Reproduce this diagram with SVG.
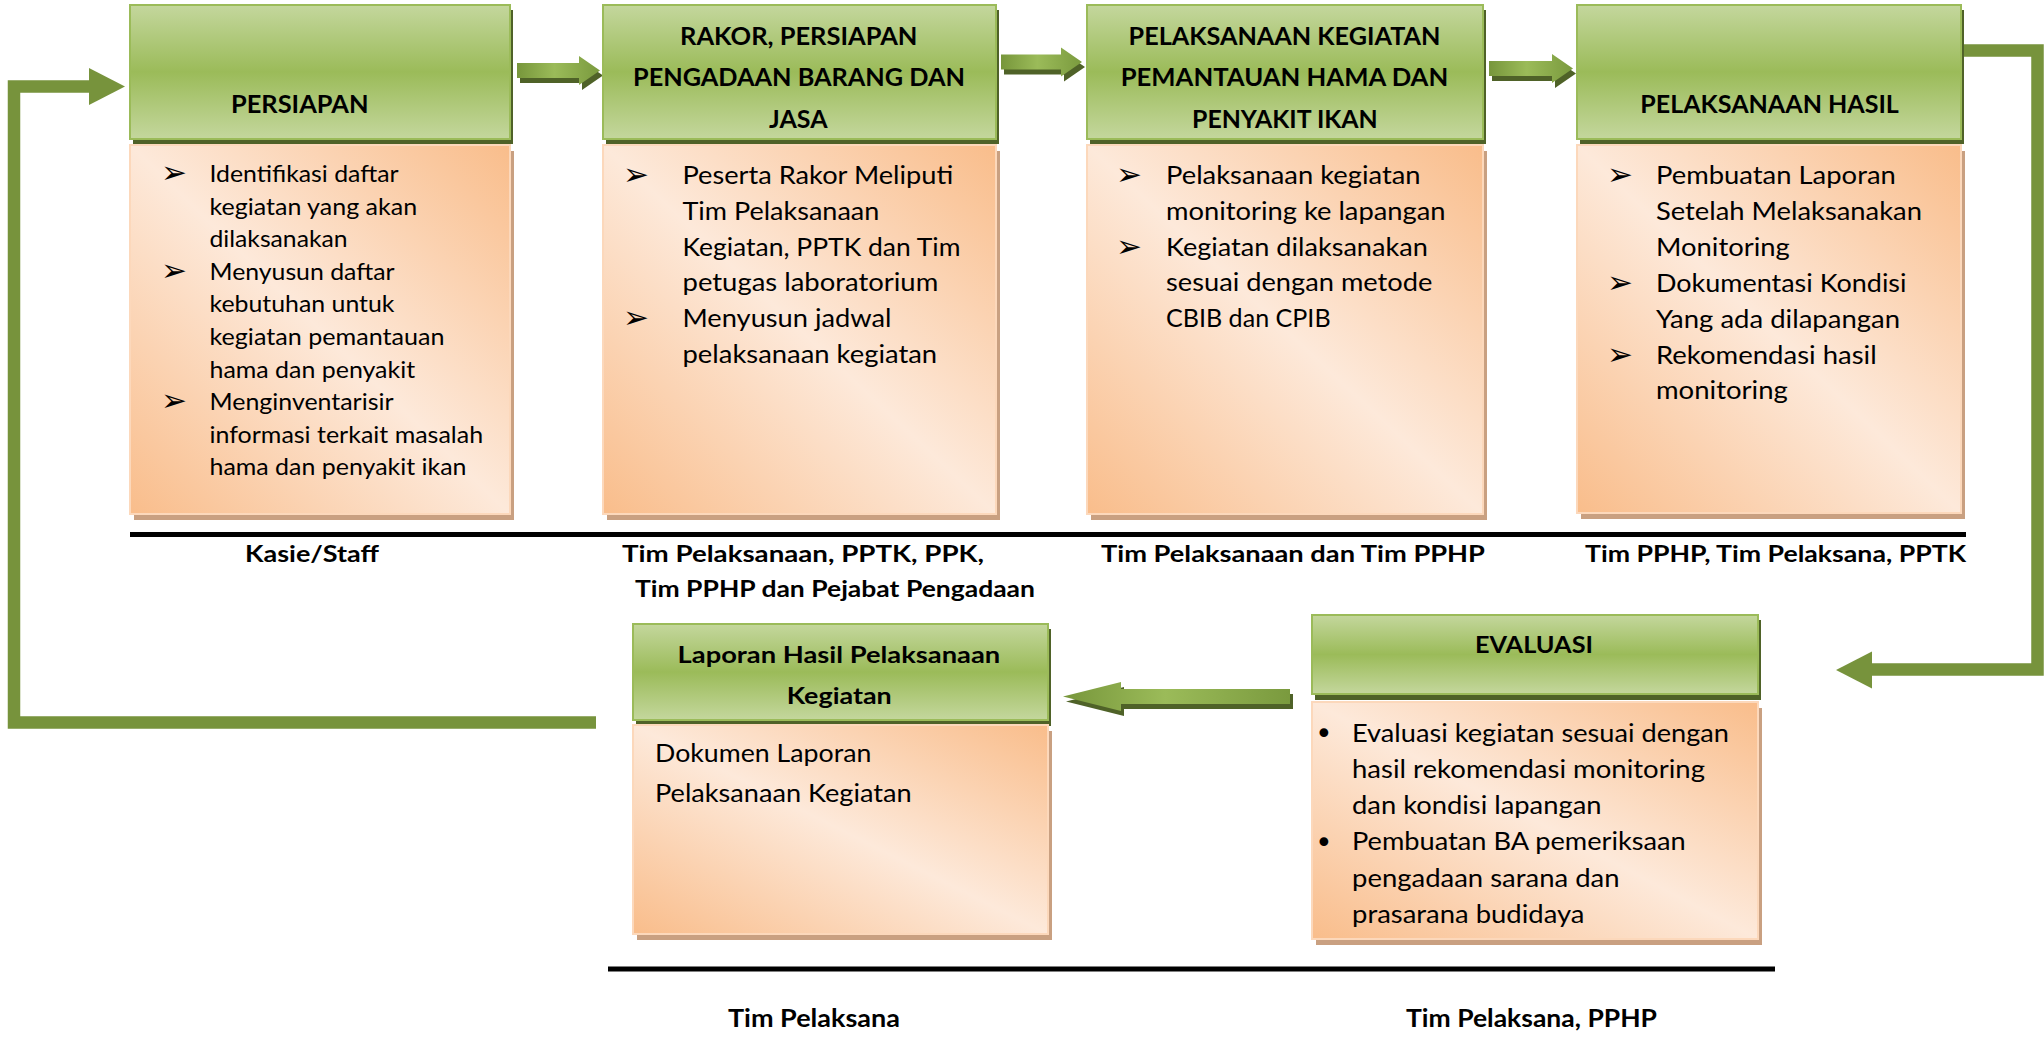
<svg xmlns="http://www.w3.org/2000/svg" width="2044" height="1038" viewBox="0 0 2044 1038">
  <defs>
    <linearGradient id="gHead" x1="0" y1="0" x2="0" y2="1">
      <stop offset="0" stop-color="#c4d79d"/>
      <stop offset="0.5" stop-color="#9bbb59"/>
      <stop offset="1" stop-color="#c4d79d"/>
    </linearGradient>
    <linearGradient id="gBody" x1="0" y1="1" x2="1" y2="0">
      <stop offset="0" stop-color="#f9bd8b"/>
      <stop offset="0.5" stop-color="#fde9da"/>
      <stop offset="1" stop-color="#f9bd8b"/>
    </linearGradient>
    <linearGradient id="gArrow" x1="0" y1="0" x2="1" y2="0">
      <stop offset="0" stop-color="#77963b"/>
      <stop offset="0.45" stop-color="#9bbb59"/>
      <stop offset="1" stop-color="#7a9a3e"/>
    </linearGradient>
    <style>
      .hd { fill: url(#gHead); stroke: #9bbb59; stroke-width: 2; }
      .hds { fill: #4f6228; }
      .bd { fill: url(#gBody); stroke: #fcd8bb; stroke-width: 2; }
      .bds { fill: #c9a081; }
      .t { font-family: Lato, "Open Sans", "Liberation Sans", sans-serif; fill: #000; }
      .b1 { font-size: 22.5px; }
      .b2 { font-size: 25px; }
      .ttl { font-weight: bold; font-size: 25px; }
      .ttl2 { font-weight: bold; font-size: 23.5px; }
      .role { font-weight: bold; font-size: 23px; }
      .role2 { font-weight: bold; font-size: 24px; }
      .bul { font-family: "DejaVu Sans", sans-serif; font-size: 31px; fill: #000; }
      .dot { font-family: "DejaVu Sans", sans-serif; font-size: 30px; fill: #000; }
      .conn { fill: none; stroke: #77933c; stroke-width: 12.5; }
      .head { fill: #77933c; }
      .ar { fill: url(#gArrow); }
      .ars { fill: #4f6228; }
      .rule { stroke: #000; stroke-width: 5; }
    </style>
  </defs>

  <!-- connectors -->
  <g id="connectors">
    <!-- feedback loop: Laporan back to Persiapan -->
    <path class="conn" d="M596,722.5 H14 V86.5 H92"/>
    <polygon class="head" points="89,68 125,86.5 89,105"/>
    <!-- Pelaksanaan Hasil down to Evaluasi -->
    <path class="conn" d="M1962,50.5 H2037.5 V669.5 H1868"/>
    <polygon class="head" points="1872,651.5 1836,670 1872,688.5"/>
    <!-- block arrows between top stages -->
    <polygon class="ars" transform="translate(3,5)" points="517,63 579,63 579,56 600,70.5 579,85 579,78 517,78"/>
    <polygon class="ar" points="517,63 579,63 579,56 600,70.5 579,85 579,78 517,78"/>
    <polygon class="ars" transform="translate(3,5)" points="1001,54.5 1061,54.5 1061,47.5 1082,62 1061,76.5 1061,69.5 1001,69.5"/>
    <polygon class="ar" points="1001,54.5 1061,54.5 1061,47.5 1082,62 1061,76.5 1061,69.5 1001,69.5"/>
    <polygon class="ars" transform="translate(3,5)" points="1489,61 1552,61 1552,54 1573,68.5 1552,83 1552,76 1489,76"/>
    <polygon class="ar" points="1489,61 1552,61 1552,54 1573,68.5 1552,83 1552,76 1489,76"/>
    <!-- Evaluasi to Laporan -->
    <polygon class="ars" transform="translate(3,5)" points="1063,696.5 1121,682 1121,689 1290,689 1290,704 1121,704 1121,711"/>
    <polygon class="ar" points="1063,696.5 1121,682 1121,689 1290,689 1290,704 1121,704 1121,711"/>
  </g>

  <!-- Stage 1 -->
  <g id="node-persiapan">
    <rect class="hds" x="133" y="10" width="380" height="134"/>
    <rect class="hd" x="130" y="5" width="380" height="134"/>
    <rect class="bds" x="134" y="151" width="380" height="369"/>
    <rect class="bd" x="130" y="145" width="380" height="369"/>
    <text class="t ttl" x="231" y="112.5" textLength="137.5" lengthAdjust="spacingAndGlyphs">PERSIAPAN</text>
    <text class="bul" x="161" y="183">➢</text>
    <text class="bul" x="161" y="280.8">➢</text>
    <text class="bul" x="161" y="411.2">➢</text>
    <g class="t b1">
      <text x="209.5" y="182" textLength="189" lengthAdjust="spacingAndGlyphs">Identifikasi daftar</text>
      <text x="209.5" y="214.6" textLength="207.6" lengthAdjust="spacingAndGlyphs">kegiatan yang akan</text>
      <text x="209.5" y="247.2" textLength="138" lengthAdjust="spacingAndGlyphs">dilaksanakan</text>
      <text x="209.5" y="279.8" textLength="185" lengthAdjust="spacingAndGlyphs">Menyusun daftar</text>
      <text x="209.5" y="312.4" textLength="185" lengthAdjust="spacingAndGlyphs">kebutuhan untuk</text>
      <text x="209.5" y="345" textLength="235" lengthAdjust="spacingAndGlyphs">kegiatan pemantauan</text>
      <text x="209.5" y="377.6" textLength="205.6" lengthAdjust="spacingAndGlyphs">hama dan penyakit</text>
      <text x="209.5" y="410.2" textLength="184" lengthAdjust="spacingAndGlyphs">Menginventarisir</text>
      <text x="209.5" y="442.8" textLength="273.6" lengthAdjust="spacingAndGlyphs">informasi terkait masalah</text>
      <text x="209.5" y="475.4" textLength="257" lengthAdjust="spacingAndGlyphs">hama dan penyakit ikan</text>
    </g>
  </g>

  <!-- Stage 2 -->
  <g id="node-rakor">
    <rect class="hds" x="606" y="10" width="393" height="134"/>
    <rect class="hd" x="603" y="5" width="393" height="134"/>
    <rect class="bds" x="607" y="151" width="393" height="369"/>
    <rect class="bd" x="603" y="145" width="393" height="369"/>
    <g class="t ttl">
      <text x="680" y="45.4" textLength="237.5" lengthAdjust="spacingAndGlyphs">RAKOR, PERSIAPAN</text>
      <text x="633" y="86.4" textLength="332" lengthAdjust="spacingAndGlyphs">PENGADAAN BARANG DAN</text>
      <text x="769" y="127.5" textLength="58.5" lengthAdjust="spacingAndGlyphs">JASA</text>
    </g>
    <text class="bul" x="623" y="185">➢</text>
    <text class="bul" x="623" y="328.2">➢</text>
    <g class="t b2">
      <text x="682.5" y="184" textLength="270.7" lengthAdjust="spacingAndGlyphs">Peserta Rakor Meliputi</text>
      <text x="682.5" y="219.8" textLength="196.8" lengthAdjust="spacingAndGlyphs">Tim Pelaksanaan</text>
      <text x="682.5" y="255.6" textLength="277.9" lengthAdjust="spacingAndGlyphs">Kegiatan, PPTK dan Tim</text>
      <text x="682.5" y="291.4" textLength="255.7" lengthAdjust="spacingAndGlyphs">petugas laboratorium</text>
      <text x="682.5" y="327.2" textLength="209" lengthAdjust="spacingAndGlyphs">Menyusun jadwal</text>
      <text x="682.5" y="363" textLength="254.6" lengthAdjust="spacingAndGlyphs">pelaksanaan kegiatan</text>
    </g>
  </g>

  <!-- Stage 3 -->
  <g id="node-pelaksanaan-kegiatan">
    <rect class="hds" x="1090" y="10" width="396" height="134"/>
    <rect class="hd" x="1087" y="5" width="396" height="134"/>
    <rect class="bds" x="1091" y="151" width="396" height="369"/>
    <rect class="bd" x="1087" y="145" width="396" height="369"/>
    <g class="t ttl">
      <text x="1128.6" y="45.4" textLength="311.8" lengthAdjust="spacingAndGlyphs">PELAKSANAAN KEGIATAN</text>
      <text x="1120.7" y="86.4" textLength="327.5" lengthAdjust="spacingAndGlyphs">PEMANTAUAN HAMA DAN</text>
      <text x="1192" y="127.5" textLength="185.7" lengthAdjust="spacingAndGlyphs">PENYAKIT IKAN</text>
    </g>
    <text class="bul" x="1116" y="185">➢</text>
    <text class="bul" x="1116" y="256.6">➢</text>
    <g class="t b2">
      <text x="1166" y="184" textLength="254.6" lengthAdjust="spacingAndGlyphs">Pelaksanaan kegiatan</text>
      <text x="1166" y="219.8" textLength="279.6" lengthAdjust="spacingAndGlyphs">monitoring ke lapangan</text>
      <text x="1166" y="255.6" textLength="261.8" lengthAdjust="spacingAndGlyphs">Kegiatan dilaksanakan</text>
      <text x="1166" y="291.4" textLength="266.4" lengthAdjust="spacingAndGlyphs">sesuai dengan metode</text>
      <text x="1166" y="327.2" textLength="164.6" lengthAdjust="spacingAndGlyphs">CBIB dan CPIB</text>
    </g>
  </g>

  <!-- Stage 4 -->
  <g id="node-pelaksanaan-hasil">
    <rect class="hds" x="1580" y="10" width="384" height="134"/>
    <rect class="hd" x="1577" y="5" width="384" height="134"/>
    <rect class="bds" x="1581" y="151" width="384" height="368"/>
    <rect class="bd" x="1577" y="145" width="384" height="368"/>
    <text class="t ttl" x="1640.3" y="112.5" textLength="258.6" lengthAdjust="spacingAndGlyphs">PELAKSANAAN HASIL</text>
    <text class="bul" x="1607" y="185">➢</text>
    <text class="bul" x="1607" y="292.7">➢</text>
    <text class="bul" x="1607" y="364.5">➢</text>
    <g class="t b2">
      <text x="1656" y="184" textLength="239.8" lengthAdjust="spacingAndGlyphs">Pembuatan Laporan</text>
      <text x="1656" y="219.9" textLength="265.9" lengthAdjust="spacingAndGlyphs">Setelah Melaksanakan</text>
      <text x="1656" y="255.8" textLength="133.8" lengthAdjust="spacingAndGlyphs">Monitoring</text>
      <text x="1656" y="291.7" textLength="250.5" lengthAdjust="spacingAndGlyphs">Dokumentasi Kondisi</text>
      <text x="1656" y="327.6" textLength="244.1" lengthAdjust="spacingAndGlyphs">Yang ada dilapangan</text>
      <text x="1656" y="363.5" textLength="220.7" lengthAdjust="spacingAndGlyphs">Rekomendasi hasil</text>
      <text x="1656" y="399.4" textLength="131.8" lengthAdjust="spacingAndGlyphs">monitoring</text>
    </g>
  </g>

  <!-- Stage 5 -->
  <g id="node-evaluasi">
    <rect class="hds" x="1315" y="620" width="446" height="80"/>
    <rect class="hd" x="1312" y="615" width="446" height="79"/>
    <rect class="bds" x="1316" y="708" width="446" height="237"/>
    <rect class="bd" x="1312" y="702" width="446" height="237"/>
    <text class="t ttl2" x="1475" y="653.3" textLength="118" lengthAdjust="spacingAndGlyphs">EVALUASI</text>
    <text class="dot" x="1315" y="744">•</text>
    <text class="dot" x="1315" y="853">•</text>
    <g class="t b2">
      <text x="1352" y="741.7" textLength="377" lengthAdjust="spacingAndGlyphs">Evaluasi kegiatan sesuai dengan</text>
      <text x="1352" y="777.9" textLength="353" lengthAdjust="spacingAndGlyphs">hasil rekomendasi monitoring</text>
      <text x="1352" y="814.1" textLength="249.5" lengthAdjust="spacingAndGlyphs">dan kondisi lapangan</text>
      <text x="1352" y="850.3" textLength="333.8" lengthAdjust="spacingAndGlyphs">Pembuatan BA pemeriksaan</text>
      <text x="1352" y="886.5" textLength="267.5" lengthAdjust="spacingAndGlyphs">pengadaan sarana dan</text>
      <text x="1352" y="922.7" textLength="232.5" lengthAdjust="spacingAndGlyphs">prasarana budidaya</text>
    </g>
  </g>

  <!-- Stage 6 -->
  <g id="node-laporan">
    <rect class="hds" x="636" y="629" width="415" height="97"/>
    <rect class="hd" x="633" y="624" width="415" height="96"/>
    <rect class="bds" x="637" y="731" width="415" height="209"/>
    <rect class="bd" x="633" y="725" width="415" height="209"/>
    <text class="t ttl2" x="677.6" y="663.3" textLength="322.6" lengthAdjust="spacingAndGlyphs">Laporan Hasil Pelaksanaan</text>
    <text class="t ttl2" x="786.7" y="704" textLength="105" lengthAdjust="spacingAndGlyphs">Kegiatan</text>
    <text class="t b2" x="655" y="762" textLength="216.4" lengthAdjust="spacingAndGlyphs">Dokumen Laporan</text>
    <text class="t b2" x="655" y="802" textLength="256.6" lengthAdjust="spacingAndGlyphs">Pelaksanaan Kegiatan</text>
  </g>

  <!-- responsible parties -->
  <g id="roles">
    <line class="rule" x1="130" y1="534.5" x2="1966" y2="534.5"/>
    <line class="rule" x1="608" y1="969" x2="1775" y2="969"/>
    <g class="t role">
      <text x="245" y="562" textLength="134" lengthAdjust="spacingAndGlyphs">Kasie/Staff</text>
      <text x="622" y="562" textLength="362" lengthAdjust="spacingAndGlyphs">Tim Pelaksanaan, PPTK, PPK,</text>
      <text x="635" y="597" textLength="400" lengthAdjust="spacingAndGlyphs">Tim PPHP dan Pejabat Pengadaan</text>
      <text x="1101" y="562" textLength="384" lengthAdjust="spacingAndGlyphs">Tim Pelaksanaan dan Tim PPHP</text>
      <text x="1585" y="562" textLength="381" lengthAdjust="spacingAndGlyphs">Tim PPHP, Tim Pelaksana, PPTK</text>
    </g>
    <g class="t role2">
      <text x="728" y="1027" textLength="172" lengthAdjust="spacingAndGlyphs">Tim Pelaksana</text>
      <text x="1406" y="1027" textLength="251" lengthAdjust="spacingAndGlyphs">Tim Pelaksana, PPHP</text>
    </g>
  </g>
</svg>
